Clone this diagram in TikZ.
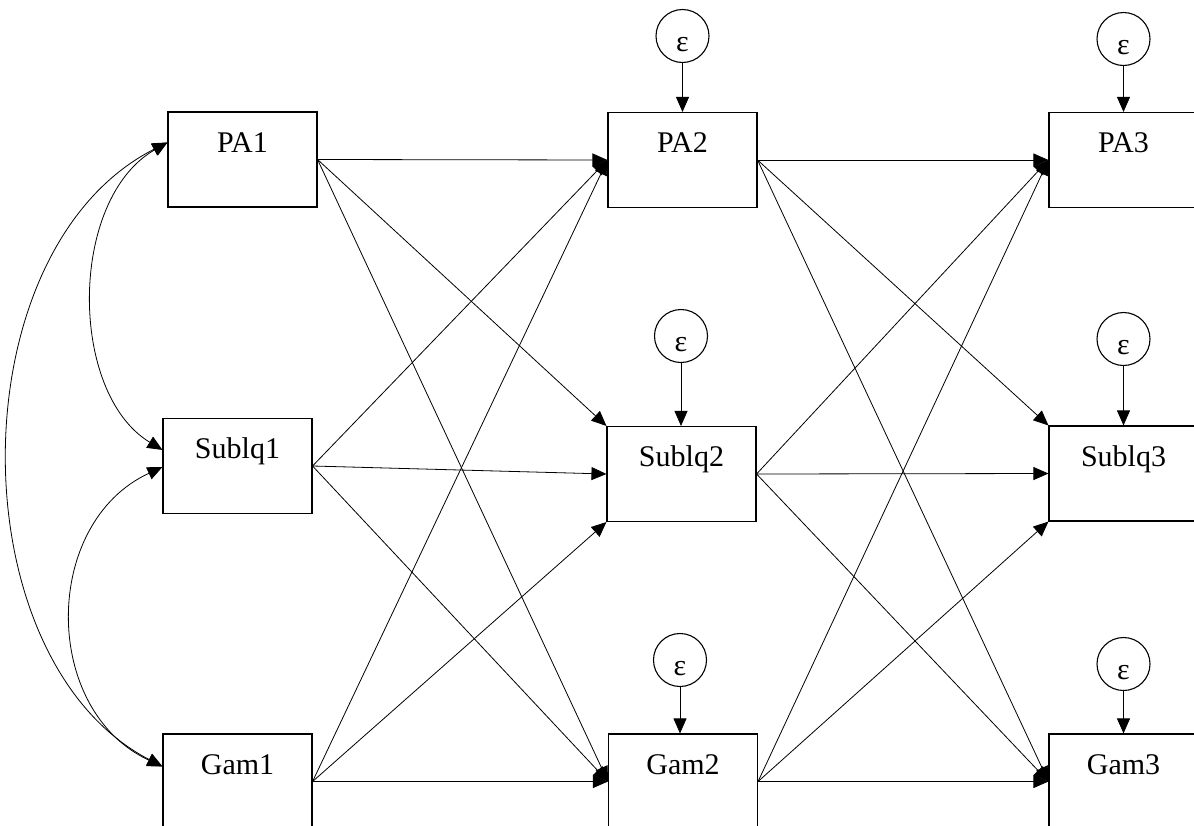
\documentclass[tikz,border=0pt]{standalone}
\usepackage{fontspec}
\setmainfont{Liberation Serif}
\usetikzlibrary{arrows.meta,calc}

\tikzset{
  var/.style={draw, rectangle, line width=1.1pt, minimum width=149pt,
    minimum height=95pt, inner sep=0pt, text height=40pt, text depth=55pt,
    font=\fontsize{30}{36}\selectfont},
  err/.style={draw, circle, line width=1.1pt, minimum size=53pt, inner sep=0pt,
    text height=30pt, text depth=0pt, font=\fontsize{30}{36}\selectfont},
  tip/.tip={Triangle[length=15pt,width=13pt]},
  reg/.style={line width=0.8pt, -tip},
  cov/.style={line width=0.8pt, tip-tip},
}

\begin{document}
\begin{tikzpicture}[x=1pt,y=-1pt]
\useasboundingbox (0,0) rectangle (1194,825);

% observed variables, three waves
\node[var] (PA1) at (242.5,159.5) {PA1};
\node[var] (SQ1) at (237.5,466)   {Sublq1};
\node[var] (G1)  at (237.5,781.5) {Gam1};
\node[var] (PA2) at (682.5,160)   {PA2};
\node[var] (SQ2) at (681.5,474)   {Sublq2};
\node[var] (G2)  at (683,781.5)   {Gam2};
\node[var] (PA3) at (1123.5,160)  {PA3};
\node[var] (SQ3) at (1123.5,473.5){Sublq3};
\node[var] (G3)  at (1123.5,781.5){Gam3};

% residual terms
\node[err] (ePA2) at (682.5,36)  {ε};
\node[err] (ePA3) at (1123.5,39) {ε};
\node[err] (eSQ2) at (681,336)   {ε};
\node[err] (eSQ3) at (1123.5,339){ε};
\node[err] (eG2)  at (680,660)   {ε};
\node[err] (eG3)  at (1123.5,664){ε};

\foreach \e/\v in {ePA2/PA2, ePA3/PA3, eSQ2/SQ2, eSQ3/SQ3, eG2/G2, eG3/G3}
  \draw[reg] (\e.south) -- (\e.south |- \v.north);

% cross-lagged and autoregressive paths
\foreach \a/\b in {1/2, 2/3} {
  \draw[reg] (PA\a.east) -- (PA\b.west);
  \draw[reg] (PA\a.east) -- (SQ\b.north west);
  \draw[reg] (PA\a.east) -- (G\b.west);
  \draw[reg] (SQ\a.east) -- (PA\b.west);
  \draw[reg] (SQ\a.east) -- (SQ\b.west);
  \draw[reg] (SQ\a.east) -- (G\b.west);
  \draw[reg] (G\a.east) -- (PA\b.west);
  \draw[reg] (G\a.east) -- (SQ\b.south west);
  \draw[reg] (G\a.east) -- (G\b.west);
}

% wave-1 covariances
\coordinate (pa1c) at ($(PA1.north west)+(0,31)$);
\coordinate (sq1a) at ($(SQ1.north west)+(0,32)$);
\coordinate (sq1b) at ($(SQ1.west)+(0,1)$);
\coordinate (g1c)  at ($(G1.north west)+(0,33)$);

\draw[cov] (pa1c) .. controls +(-99,57) and +(-94,-57) .. (sq1a);
\draw[cov] (pa1c) .. controls +(-211,107) and +(-206,-107) .. (g1c);
\draw[cov] (sq1b) .. controls +(-121,56) and +(-121,-56) .. (g1c);
\end{tikzpicture}
\end{document}
